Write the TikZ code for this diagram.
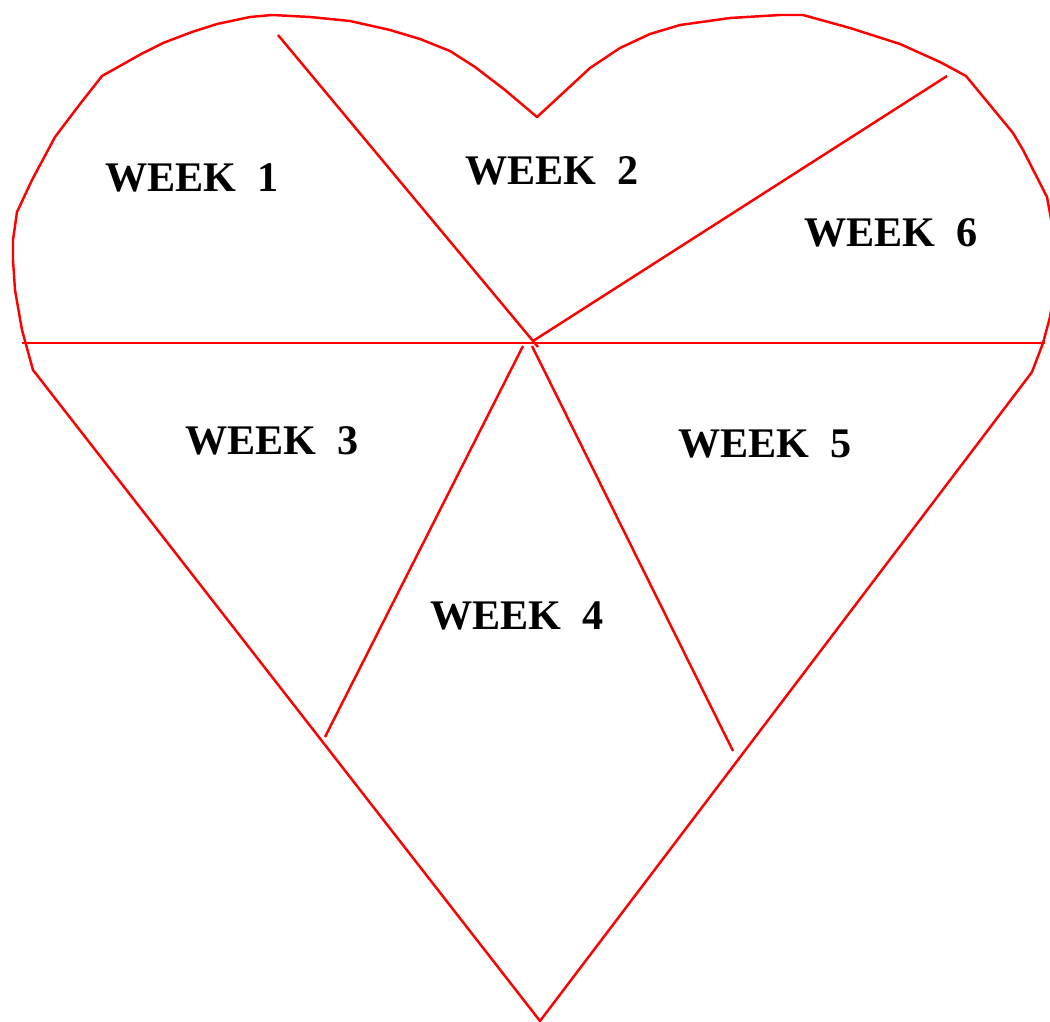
\documentclass[tikz,border=0pt]{standalone}
\usepackage{fontspec}
\setmainfont{Liberation Serif}
\usepackage{tikz}
\usetikzlibrary{positioning}

\tikzset{
  heartline/.style={red, line width=1.4pt, line join=round},
  weeklabel/.style={font=\fontsize{24}{28}\selectfont\bfseries, inner sep=0pt}
}

\begin{document}
\begin{tikzpicture}[x=0.02cm, y=-0.02cm]
  \useasboundingbox (0,0) rectangle (1050,1021);
  \clip (0,0) rectangle (1050,1021);
  % outline
  \draw[heartline] (537,117) -- (505,90) -- (475,67) -- (450,51) -- (420,39) -- (390,30)
    -- (350,21) -- (310,17) -- (272,15) -- (250,17) -- (217,24) -- (192,32) -- (163,43)
    -- (143,53) -- (102,76) -- (80,104) -- (55,137) -- (32,180) -- (17,212) -- (13,240)
    -- (13,260) -- (15,290) -- (22,330) -- (33,370) -- (540,1021) -- (1032,372)
    -- (1043,343) -- (1050,317) -- (1054,290) -- (1055,260) -- (1053,230) -- (1047,197)
    -- (1023,150) -- (1013,133) -- (966,76) -- (940,62) -- (900,44) -- (850,28) -- (803,15)
    -- (780,15) -- (730,18) -- (680,25) -- (650,34) -- (620,48) -- (590,68) -- (563,93)
    -- cycle;
  % dividers
  \coordinate (mid) at (533,341);
  \coordinate (w) at (22,343);
  \coordinate (e) at (1045,343);
  \coordinate (tl) at (278,35);
  \coordinate (tr) at (947,76);
  \coordinate (bl) at (325,737);
  \coordinate (br) at (733,751);
  \draw[heartline] (w) -- (e);
  \draw[heartline] (tl) -- (538,347);
  \draw[heartline] (mid) -- (tr);
  \draw[heartline] (523,346) -- (bl);
  \draw[heartline] (532,346) -- (br);
  % labels
  \node[weeklabel] (wk1) at (192,178) {WEEK\ \ 1};
  \node[weeklabel] (wk2) at (552,171) {WEEK\ \ 2};
  \node[weeklabel] (wk6) at (891,233) {WEEK\ \ 6};
  \node[weeklabel] (wk3) at (272,441) {WEEK\ \ 3};
  \node[weeklabel] (wk4) at (517,616) {WEEK\ \ 4};
  \node[weeklabel] (wk5) at (765,444) {WEEK\ \ 5};
\end{tikzpicture}
\end{document}
